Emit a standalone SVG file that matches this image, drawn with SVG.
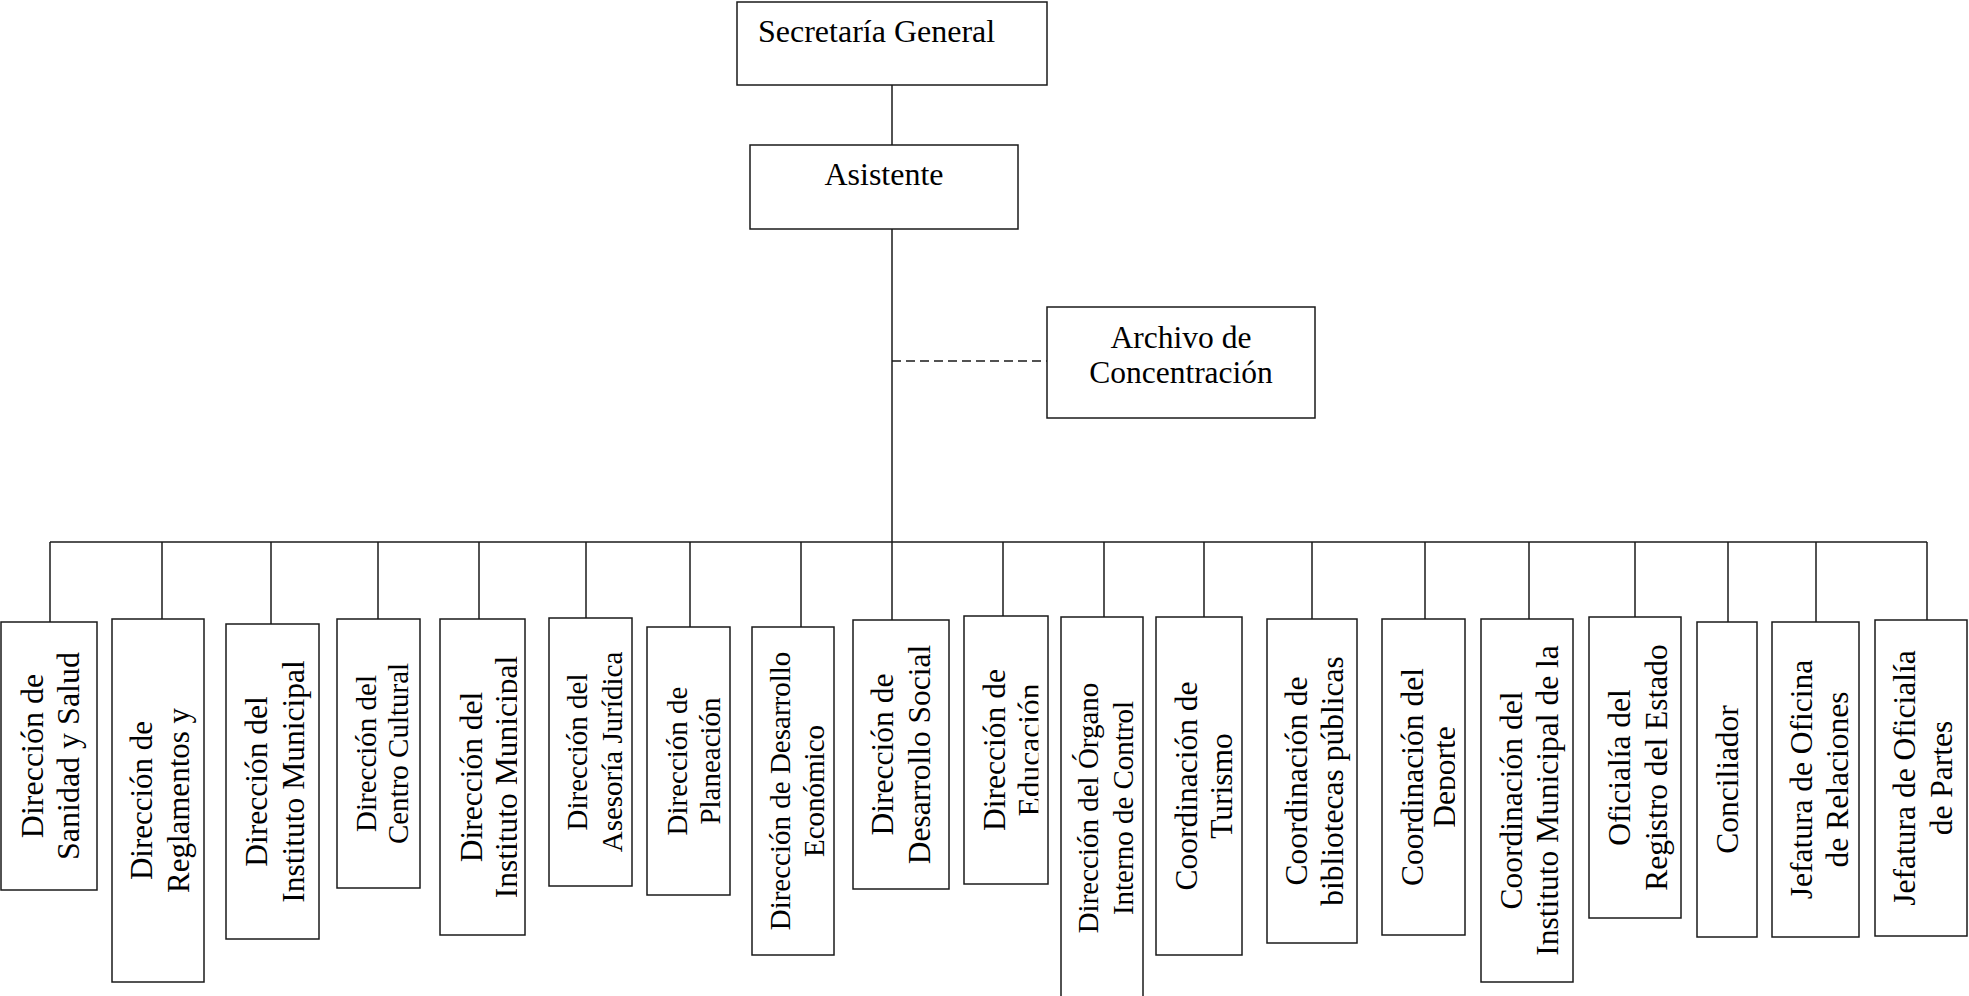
<svg xmlns="http://www.w3.org/2000/svg" width="1969" height="996" viewBox="0 0 1969 996">
<style>
.box{fill:#fff;stroke:#1a1a1a;stroke-width:1.5}
.ln{fill:none;stroke:#1a1a1a;stroke-width:1.5}
.dash{fill:none;stroke:#1a1a1a;stroke-width:1.7;stroke-dasharray:9 5}
text{font-family:"Liberation Serif","Times New Roman",serif;fill:#000;text-anchor:middle}
.f32{font-size:32px}.f31{font-size:31.5px}.f29{font-size:29px}.f30{font-size:31px}
</style>
<defs>
<clipPath id="clip5"><rect x="430" y="600" width="87.2" height="396"/></clipPath>
<clipPath id="clip10"><rect x="955" y="600" width="83.4" height="396"/></clipPath>
<clipPath id="clip14"><rect x="1375" y="600" width="80.2" height="396"/></clipPath>
</defs>
<rect width="1969" height="996" fill="#fff"/>
<g id="connectors">
<line class="ln" x1="892" y1="85" x2="892" y2="145"/>
<line class="ln" x1="892" y1="229" x2="892" y2="620"/>
<line class="dash" x1="892" y1="361" x2="1047" y2="361"/>
<line class="ln" x1="50" y1="542" x2="1927" y2="542"/>
<line class="ln" x1="50" y1="542" x2="50" y2="622"/>
<line class="ln" x1="162" y1="542" x2="162" y2="619"/>
<line class="ln" x1="271" y1="542" x2="271" y2="624"/>
<line class="ln" x1="378" y1="542" x2="378" y2="619"/>
<line class="ln" x1="479" y1="542" x2="479" y2="619"/>
<line class="ln" x1="586" y1="542" x2="586" y2="618"/>
<line class="ln" x1="690" y1="542" x2="690" y2="627"/>
<line class="ln" x1="801" y1="542" x2="801" y2="627"/>
<line class="ln" x1="1003" y1="542" x2="1003" y2="616"/>
<line class="ln" x1="1104" y1="542" x2="1104" y2="617"/>
<line class="ln" x1="1204" y1="542" x2="1204" y2="617"/>
<line class="ln" x1="1312" y1="542" x2="1312" y2="619"/>
<line class="ln" x1="1425" y1="542" x2="1425" y2="619"/>
<line class="ln" x1="1529" y1="542" x2="1529" y2="619"/>
<line class="ln" x1="1635" y1="542" x2="1635" y2="617"/>
<line class="ln" x1="1728" y1="542" x2="1728" y2="622"/>
<line class="ln" x1="1816" y1="542" x2="1816" y2="622"/>
<line class="ln" x1="1927" y1="542" x2="1927" y2="620"/>
</g>
<g id="n-secretaria">
<rect class="box" x="737" y="2" width="310" height="83"/>
<text class="f32" x="758" y="42" style="text-anchor:start">Secretaría General</text>
</g>
<g id="n-asistente">
<rect class="box" x="750" y="145" width="268" height="84"/>
<text class="f32" x="884" y="185">Asistente</text>
</g>
<g id="n-archivo">
<rect class="box" x="1047" y="307" width="268" height="111"/>
<text class="f31" x="1181" y="348">Archivo de</text>
<text class="f31" x="1181" y="383">Concentración</text>
</g>
<g id="n-sanidad">
<rect class="box" x="1" y="622" width="96" height="268"/>
<text class="f32" transform="translate(43,756) rotate(-90)">Dirección de</text>
<text class="f32" transform="translate(79,756) rotate(-90)">Sanidad y Salud</text>
</g>
<g id="n-reglamentos">
<rect class="box" x="112" y="619" width="92" height="363"/>
<text class="f30" transform="translate(152,800.5) rotate(-90)">Dirección de</text>
<text class="f30" transform="translate(189,800.5) rotate(-90)">Reglamentos y</text>
</g>
<g id="n-instituto1">
<rect class="box" x="226" y="624" width="93" height="315"/>
<text class="f31" transform="translate(267,781.5) rotate(-90)">Dirección del</text>
<text class="f31" transform="translate(304,781.5) rotate(-90)">Instituto Municipal</text>
</g>
<g id="n-centro-cultural">
<rect class="box" x="337" y="619" width="83" height="269"/>
<text class="f29" transform="translate(376,753.5) rotate(-90)">Dirección del</text>
<text class="f29" transform="translate(408,753.5) rotate(-90)">Centro Cultural</text>
</g>
<g id="n-instituto2">
<rect class="box" x="440" y="619" width="85" height="316"/>
<g clip-path="url(#clip5)">
<text class="f31" transform="translate(482,777) rotate(-90)">Dirección del</text>
<text class="f31" transform="translate(517,777) rotate(-90)">Instituto Municipal</text>
</g>
</g>
<g id="n-asesoria">
<rect class="box" x="549" y="618" width="83" height="268"/>
<text class="f29" transform="translate(587,752) rotate(-90)">Dirección del</text>
<text class="f29" transform="translate(622,752) rotate(-90)">Asesoría Jurídica</text>
</g>
<g id="n-planeacion">
<rect class="box" x="647" y="627" width="83" height="268"/>
<text class="f29" transform="translate(687,761) rotate(-90)">Dirección de</text>
<text class="f29" transform="translate(720,761) rotate(-90)">Planeación</text>
</g>
<g id="n-economico">
<rect class="box" x="752" y="627" width="82" height="328"/>
<text class="f29" transform="translate(790,791) rotate(-90)">Dirección de Desarrollo</text>
<text class="f29" transform="translate(824,791) rotate(-90)">Económico</text>
</g>
<g id="n-social">
<rect class="box" x="853" y="620" width="96" height="269"/>
<text class="f31" transform="translate(893,754.5) rotate(-90)">Dirección de</text>
<text class="f31" transform="translate(930,754.5) rotate(-90)">Desarrollo Social</text>
</g>
<g id="n-educacion">
<rect class="box" x="964" y="616" width="84" height="268"/>
<g clip-path="url(#clip10)">
<text class="f31" transform="translate(1005,750) rotate(-90)">Dirección de</text>
<text class="f31" transform="translate(1040,750) rotate(-90)">Educación</text>
</g>
</g>
<g id="n-organo">
<rect class="box" x="1061" y="617" width="82" height="382"/>
<text class="f29" transform="translate(1098,808) rotate(-90)">Dirección del Órgano</text>
<text class="f29" transform="translate(1133,808) rotate(-90)">Interno de Control</text>
</g>
<g id="n-turismo">
<rect class="box" x="1156" y="617" width="86" height="338"/>
<text class="f31" transform="translate(1197,786) rotate(-90)">Coordinación de</text>
<text class="f31" transform="translate(1232,786) rotate(-90)">Turismo</text>
</g>
<g id="n-bibliotecas">
<rect class="box" x="1267" y="619" width="90" height="324"/>
<text class="f31" transform="translate(1307,781) rotate(-90)">Coordinación de</text>
<text class="f31" transform="translate(1343,781) rotate(-90)">bibliotecas públicas</text>
</g>
<g id="n-deporte">
<rect class="box" x="1382" y="619" width="83" height="316"/>
<g clip-path="url(#clip14)">
<text class="f31" transform="translate(1423,777) rotate(-90)">Coordinación del</text>
<text class="f31" transform="translate(1455,777) rotate(-90)">Deporte</text>
</g>
</g>
<g id="n-instituto3">
<rect class="box" x="1481" y="619" width="92" height="363"/>
<text class="f31" transform="translate(1522,800.5) rotate(-90)">Coordinación del</text>
<text class="f31" transform="translate(1558,800.5) rotate(-90)">Instituto Municipal de la</text>
</g>
<g id="n-registro">
<rect class="box" x="1589" y="617" width="92" height="301"/>
<text class="f31" transform="translate(1630,767.5) rotate(-90)">Oficialía del</text>
<text class="f31" transform="translate(1667,767.5) rotate(-90)">Registro del Estado</text>
</g>
<g id="n-conciliador">
<rect class="box" x="1697" y="622" width="60" height="315"/>
<text class="f31" transform="translate(1738,779.5) rotate(-90)">Conciliador</text>
</g>
<g id="n-relaciones">
<rect class="box" x="1772" y="622" width="87" height="315"/>
<text class="f31" transform="translate(1812,779.5) rotate(-90)">Jefatura de Oficina</text>
<text class="f31" transform="translate(1848,779.5) rotate(-90)">de Relaciones</text>
</g>
<g id="n-partes">
<rect class="box" x="1875" y="620" width="92" height="316"/>
<text class="f31" transform="translate(1915,778) rotate(-90)">Jefatura de Oficialía</text>
<text class="f31" transform="translate(1952,778) rotate(-90)">de Partes</text>
</g>
</svg>
